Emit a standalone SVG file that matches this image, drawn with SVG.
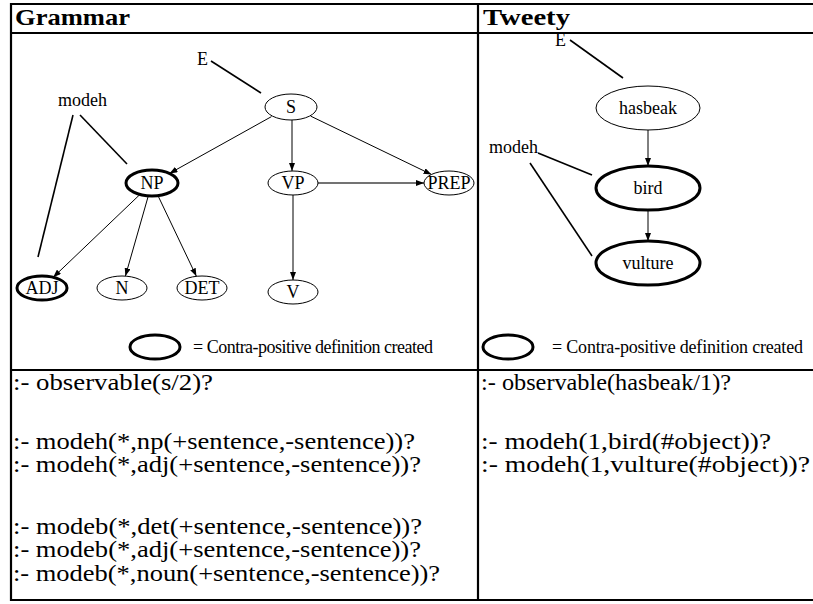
<svg xmlns="http://www.w3.org/2000/svg" width="813" height="604" viewBox="0 0 813 604" font-family="Liberation Serif, Times New Roman, serif">
  <style>
    .frame { stroke: #000; stroke-width: 2.2; fill: none; }
    .node { fill: #fff; stroke: #000; stroke-width: 1; }
    .thick { stroke-width: 3; }
    .lbl { font-size: 18px; fill: #000; }
    .mid { text-anchor: middle; }
    .hdr { font-size: 24px; font-weight: bold; fill: #000; }
    .code { font-size: 23px; fill: #000; }
    .edge { stroke: #000; stroke-width: 1; fill: none; marker-end: url(#arrow); }
    .link { stroke: #000; stroke-width: 1.6; fill: none; }
  </style>
  <defs>
    <marker id="arrow" markerUnits="userSpaceOnUse" markerWidth="8" markerHeight="6" refX="8" refY="3" orient="auto">
      <path d="M0,0 L8,3 L0,6 z" fill="#000"/>
    </marker>
  </defs>
  <rect width="813" height="604" fill="#fff"/>

  <!-- table frame -->
  <g id="table">
    <line class="frame" x1="10" y1="4" x2="813" y2="4"/>
    <line class="frame" x1="10" y1="33" x2="813" y2="33"/>
    <line class="frame" x1="10" y1="370" x2="813" y2="370"/>
    <line class="frame" x1="10" y1="600" x2="813" y2="600"/>
    <line class="frame" x1="11" y1="3" x2="11" y2="601"/>
    <line class="frame" x1="478" y1="3" x2="478" y2="601"/>
    <text class="hdr" x="15" y="25" textLength="115" lengthAdjust="spacingAndGlyphs">Grammar</text>
    <text class="hdr" x="483" y="25" textLength="87" lengthAdjust="spacingAndGlyphs">Tweety</text>
  </g>

  <!-- Grammar connectors -->
  <g id="grammar-connectors">
    <line class="link" x1="211" y1="61" x2="261" y2="93"/>
    <line class="link" x1="73" y1="115" x2="38" y2="257"/>
    <line class="link" x1="80" y1="115" x2="127" y2="164"/>
    <line class="edge" x1="271.5" y1="116.6" x2="169.5" y2="173.4"/>
    <line class="edge" x1="292" y1="120" x2="292" y2="171"/>
    <line class="edge" x1="310.6" y1="116.1" x2="431.5" y2="174.5"/>
    <line class="edge" x1="318" y1="183" x2="424" y2="183" style="stroke:#444;stroke-width:1.6"/>
    <line class="edge" x1="139.9" y1="194.5" x2="53.2" y2="277.3"/>
    <line class="edge" x1="148.3" y1="195.9" x2="125.4" y2="276.1"/>
    <line class="edge" x1="158" y1="195.7" x2="196.4" y2="276.3"/>
    <line class="edge" x1="293" y1="195" x2="293" y2="280"/>
  </g>

  <!-- Grammar nodes -->
  <g id="g-E"><text class="lbl" x="197" y="65">E</text></g>
  <g id="g-modeh"><text class="lbl" x="58" y="106">modeh</text></g>
  <g id="g-S"><ellipse class="node" cx="291" cy="107" rx="26" ry="13"/><text class="lbl mid" x="291" y="113">S</text></g>
  <g id="g-NP"><ellipse class="node thick" cx="152" cy="183" rx="26" ry="13"/><text class="lbl mid" x="152" y="189">NP</text></g>
  <g id="g-VP"><ellipse class="node" cx="293" cy="183" rx="25" ry="12"/><text class="lbl mid" x="293" y="189">VP</text></g>
  <g id="g-PREP"><ellipse class="node" cx="449" cy="183" rx="25" ry="12"/><text class="lbl mid" x="449" y="189">PREP</text></g>
  <g id="g-ADJ"><ellipse class="node thick" cx="42" cy="288" rx="25" ry="12"/><text class="lbl mid" x="42" y="294">ADJ</text></g>
  <g id="g-N"><ellipse class="node" cx="122" cy="288" rx="25" ry="12"/><text class="lbl mid" x="122" y="294">N</text></g>
  <g id="g-DET"><ellipse class="node" cx="202" cy="288" rx="25" ry="12"/><text class="lbl mid" x="202" y="294">DET</text></g>
  <g id="g-V"><ellipse class="node" cx="293" cy="292" rx="25" ry="12"/><text class="lbl mid" x="293" y="298">V</text></g>
  <g id="g-legend"><ellipse class="node thick" cx="155" cy="347" rx="25" ry="12"/><text class="lbl" x="193" y="353" textLength="240">= Contra-positive definition created</text></g>

  <!-- Tweety connectors -->
  <g id="tweety-connectors">
    <line class="link" x1="570" y1="40" x2="623" y2="78"/>
    <line class="link" x1="538" y1="153" x2="592" y2="175"/>
    <line class="link" x1="530" y1="163" x2="592" y2="256"/>
    <line class="edge" x1="648" y1="130" x2="648" y2="166"/>
    <line class="edge" x1="648" y1="210" x2="648" y2="241"/>
  </g>

  <!-- Tweety nodes -->
  <g id="t-E"><text class="lbl" x="555" y="46">E</text></g>
  <g id="t-modeh"><text class="lbl" x="489" y="153">modeh</text></g>
  <g id="t-hasbeak"><ellipse class="node" cx="648" cy="108" rx="52" ry="22"/><text class="lbl mid" x="648" y="114">hasbeak</text></g>
  <g id="t-bird"><ellipse class="node thick" cx="648" cy="188" rx="52" ry="22"/><text class="lbl mid" x="648" y="194">bird</text></g>
  <g id="t-vulture"><ellipse class="node thick" cx="648" cy="263" rx="52" ry="22"/><text class="lbl mid" x="648" y="269">vulture</text></g>
  <g id="t-legend"><ellipse class="node thick" cx="508" cy="347" rx="25" ry="12"/><text class="lbl" x="552" y="353" textLength="251">= Contra-positive definition created</text></g>

  <!-- Grammar declarations -->
  <g id="grammar-code">
    <text class="code" x="13" y="390" textLength="200" lengthAdjust="spacingAndGlyphs">:- observable(s/2)?</text>
    <text class="code" x="13" y="449" textLength="402" lengthAdjust="spacingAndGlyphs">:- modeh(*,np(+sentence,-sentence))?</text>
    <text class="code" x="13" y="472" textLength="408" lengthAdjust="spacingAndGlyphs">:- modeh(*,adj(+sentence,-sentence))?</text>
    <text class="code" x="13" y="534" textLength="409" lengthAdjust="spacingAndGlyphs">:- modeb(*,det(+sentence,-sentence))?</text>
    <text class="code" x="13" y="557" textLength="408" lengthAdjust="spacingAndGlyphs">:- modeb(*,adj(+sentence,-sentence))?</text>
    <text class="code" x="13" y="581" textLength="427" lengthAdjust="spacingAndGlyphs">:- modeb(*,noun(+sentence,-sentence))?</text>
  </g>

  <!-- Tweety declarations -->
  <g id="tweety-code">
    <text class="code" x="481" y="390" textLength="250" lengthAdjust="spacingAndGlyphs">:- observable(hasbeak/1)?</text>
    <text class="code" x="481" y="449" textLength="290" lengthAdjust="spacingAndGlyphs">:- modeh(1,bird(#object))?</text>
    <text class="code" x="481" y="472" textLength="329" lengthAdjust="spacingAndGlyphs">:- modeh(1,vulture(#object))?</text>
  </g>
</svg>
